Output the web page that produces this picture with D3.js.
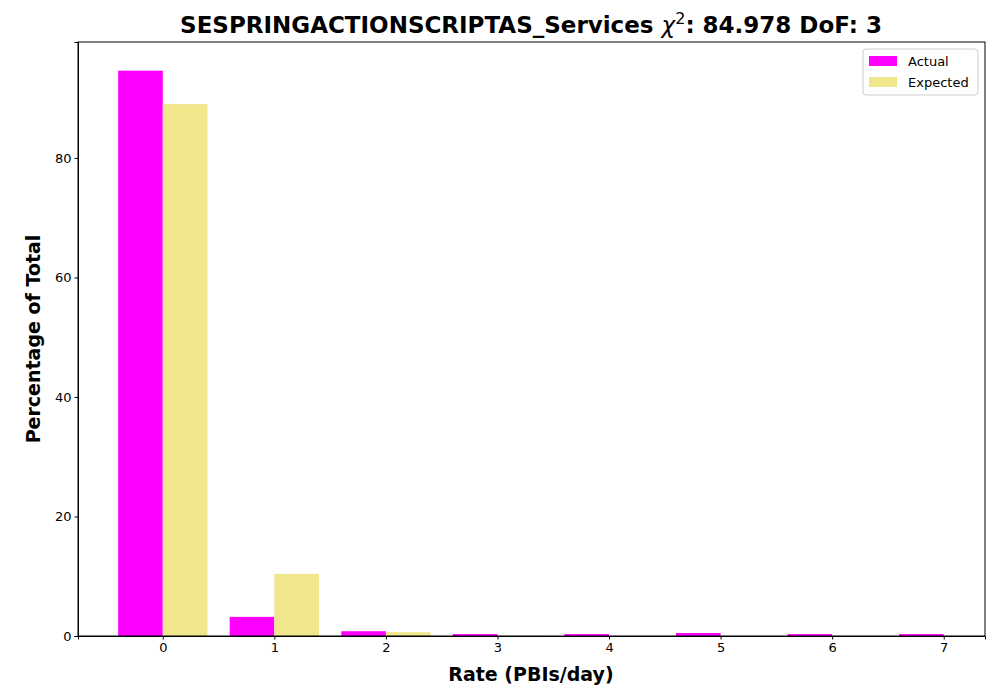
<!DOCTYPE html>
<html><head><meta charset="utf-8">
<script src="https://cdn.jsdelivr.net/npm/d3@7"></script>
<style>body{margin:0;background:#fff}text{font-family:"DejaVu Sans",sans-serif}</style>
</head><body><svg id="c" width="1000" height="700"></svg>
<script>
// data
var rates = [0, 1, 2, 3, 4, 5, 6, 7];
var actual = [94.6, 3.2, 0.8, 0.33, 0.33, 0.5, 0.33, 0.33];
var expected = [89.0, 10.4, 0.65, 0.02, 0, 0, 0, 0];
var yTicks = [0, 20, 40, 60, 80];

var svg = d3.select("#c");
var m = {l: 78, r: 985, t: 42, b: 636};
var x = d3.scaleLinear().domain([-0.76, 7.37]).range([m.l, m.r]);
var y = d3.scaleLinear().domain([0, 99.4]).range([m.b, m.t]);
var w = 0.4;

svg.selectAll(".a").data(rates).enter().append("rect")
  .attr("x", d => x(d - w)).attr("width", d => x(d) - x(d - w))
  .attr("y", (d, i) => y(actual[i])).attr("height", (d, i) => y(0) - y(actual[i]))
  .attr("fill", "#ff00ff");
svg.selectAll(".e").data(rates).enter().append("rect")
  .attr("x", d => x(d)).attr("width", d => x(d + w) - x(d))
  .attr("y", (d, i) => y(expected[i])).attr("height", (d, i) => y(0) - y(expected[i]))
  .attr("fill", "#f0e68c");

var xa = svg.append("g").attr("transform", `translate(0,${m.b})`)
  .call(d3.axisBottom(x).tickValues(rates).tickFormat(d3.format("d")).tickSizeOuter(0).tickSize(3.5));
var ya = svg.append("g").attr("transform", `translate(${m.l},0)`)
  .call(d3.axisLeft(y).tickValues(yTicks).tickSizeOuter(0).tickSize(3.5));
[xa, ya].forEach(g => g.selectAll("text").attr("font-size", 13).attr("fill", "#000"));
svg.append("rect").attr("x", m.l).attr("y", m.t).attr("width", m.r - m.l).attr("height", m.b - m.t)
  .attr("fill", "none").attr("stroke", "#000");

svg.append("text").attr("x", 531).attr("y", 33).attr("text-anchor", "middle")
  .attr("font-size", 23).attr("font-weight", "bold")
  .html('SESPRINGACTIONSCRIPTAS_Services <tspan font-style="italic" font-weight="normal">χ</tspan><tspan dy="-9" font-size="16" font-weight="normal">2</tspan><tspan dy="9">: 84.978 DoF: 3</tspan>');
svg.append("text").attr("x", 531).attr("y", 681).attr("text-anchor", "middle")
  .attr("font-size", 19).attr("font-weight", "bold").text("Rate (PBIs/day)");
svg.append("text").attr("transform", "translate(40,339) rotate(-90)").attr("text-anchor", "middle")
  .attr("font-size", 19).attr("font-weight", "bold").text("Percentage of Total");

var lg = svg.append("g");
lg.append("rect").attr("x", 863).attr("y", 49).attr("width", 115).attr("height", 46).attr("rx", 3)
  .attr("fill", "#fff").attr("stroke", "#ccc");
[["Actual", "#ff00ff"], ["Expected", "#f0e68c"]].forEach(function(d, i) {
  lg.append("rect").attr("x", 869).attr("y", 56 + i * 21).attr("width", 28).attr("height", 10).attr("fill", d[1]);
  lg.append("text").attr("x", 908).attr("y", 66 + i * 21).attr("font-size", 13).text(d[0]);
});
</script></body></html>
